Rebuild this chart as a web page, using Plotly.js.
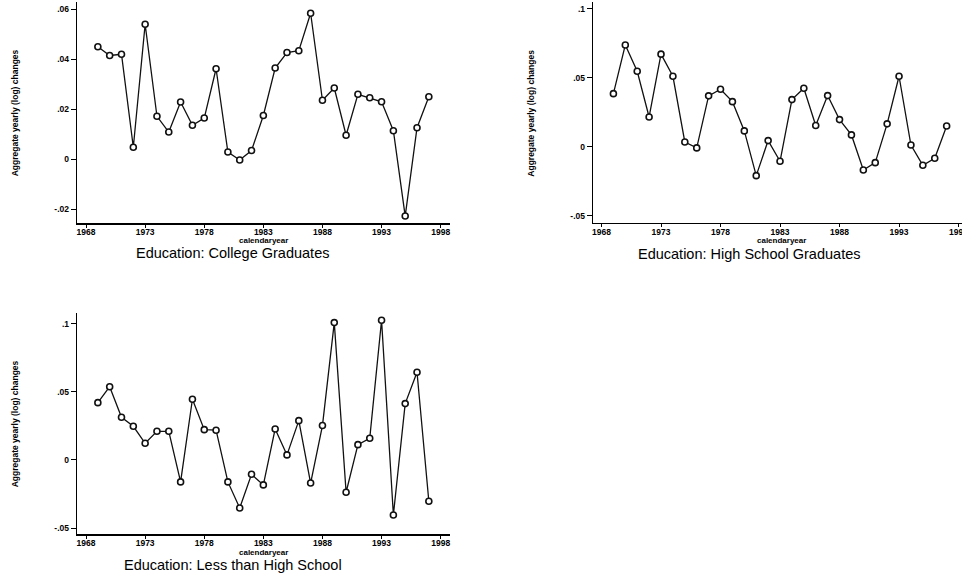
<!DOCTYPE html>
<html>
<head>
<meta charset="utf-8">
<script src="https://cdn.plot.ly/plotly-3.0.1.min.js"></script>
<style>html,body{margin:0;padding:0;background:#fff;}#chart{width:962px;height:577px;}</style>
</head>
<body>
<div id="chart"></div>
<script>
const years = [1969,1970,1971,1972,1973,1974,1975,1976,1977,1978,1979,1980,1981,1982,1983,1984,1985,1986,1987,1988,1989,1990,1991,1992,1993,1994,1995,1996,1997];
const college = [0.045,0.0415,0.042,0.0048,0.054,0.0172,0.0109,0.0229,0.0136,0.0165,0.0362,0.0029,-0.0003,0.0035,0.0175,0.0365,0.0427,0.0434,0.0584,0.0236,0.0285,0.0096,0.026,0.0246,0.023,0.0114,-0.0227,0.0126,0.025];
const highSchool = [0.0386,0.0739,0.0548,0.0217,0.0672,0.0512,0.0036,-0.0007,0.037,0.0418,0.0328,0.0116,-0.0208,0.0046,-0.0104,0.0343,0.0425,0.0155,0.0372,0.0198,0.0087,-0.0167,-0.0114,0.0167,0.0512,0.0014,-0.0133,-0.0082,0.0152];
const lessHS = [0.042,0.0537,0.0313,0.0247,0.0122,0.021,0.021,-0.0161,0.0445,0.0222,0.0218,-0.0161,-0.0352,-0.0105,-0.0183,0.0227,0.0037,0.0288,-0.0169,0.0252,0.1007,-0.0237,0.0112,0.0159,0.1024,-0.0403,0.0413,0.0643,-0.0303];
const xTicks = [1968,1973,1978,1983,1988,1993,1998];
const xTickText = ["1968","1973","1978","1983","1988","1993","1998"];
const yTicks1 = [-0.02,0,0.02,0.04,0.06];
const yTickText1 = ["-.02","0",".02",".04",".06"];
const yTicks2 = [-0.05,0,0.05,0.1];
const yTickText2 = ["-.05","0",".05",".1"];
const panelTitles = ["Education: College Graduates","Education: High School Graduates","Education: Less than High School"];
const xTitle = "calendaryear";
const yTitle = "Aggregate yearly (log) changes";

const W = 962, H = 577;
const FAM = "Liberation Sans, Arial, Helvetica, sans-serif";
const tickFont = {family: FAM, size: 8.5, color: "#000", weight: "bold"};

function trace(y, xa, ya) {
  return {
    x: years, y: y, xaxis: xa, yaxis: ya, type: "scatter", mode: "lines+markers",
    line: {color: "#111", width: 1.3},
    marker: {symbol: "circle", size: 6, color: "#fff", line: {color: "#111", width: 1.6}},
    hoverinfo: "skip"
  };
}
function xax(domain, range, anchor) {
  return {domain: domain, range: range, anchor: anchor, showline: true, linecolor: "#000", linewidth: 1.6,
    ticks: "outside", ticklen: 3, tickwidth: 1, tickcolor: "#000", tickvals: xTicks, ticktext: xTickText,
    ticklabelstandoff: -3, ticklabeloverflow: "allow",
    tickfont: tickFont, showgrid: false, zeroline: false, fixedrange: true};
}
function yax(domain, range, anchor, tv, tt) {
  return {domain: domain, range: range, anchor: anchor, showline: true, linecolor: "#000", linewidth: 1,
    ticks: "outside", ticklen: 5, tickwidth: 1, tickcolor: "#000", tickvals: tv, ticktext: tt,
    tickfont: tickFont, showgrid: false, zeroline: false, fixedrange: true};
}
function px(x) { return x / W; }
function py(y) { return 1 - y / H; }
function ann(text, x, y, size, bold, angle) {
  return {text: text, x: px(x), y: py(y), xref: "paper", yref: "paper", showarrow: false,
    xanchor: "center", yanchor: "middle", textangle: angle || 0,
    font: {family: FAM, size: size, color: "#000", weight: bold ? "bold" : "normal"}};
}

const data = [trace(college, "x", "y"), trace(highSchool, "x2", "y2"), trace(lessHS, "x3", "y3")];
const layout = {
  width: W, height: H, margin: {l: 0, r: 0, t: 0, b: 0},
  paper_bgcolor: "#fff", plot_bgcolor: "#fff", showlegend: false,
  xaxis: xax([px(76.7), px(450)], [1967.21, 1998.79], "y"),
  yaxis: yax([py(223.3), py(2)], [-0.0256, 0.0629], "x", yTicks1, yTickText1),
  xaxis2: xax([px(592.7), 1], [1967.26, 1998.29], "y2"),
  yaxis2: yax([py(222.7), py(2)], [-0.0549, 0.105], "x2", yTicks2, yTickText2),
  xaxis3: xax([px(76.7), px(450)], [1967.21, 1998.79], "y3"),
  yaxis3: yax([py(534.3), py(313.3)], [-0.0545, 0.1075], "x3", yTicks2, yTickText2),
  annotations: [
    ann(yTitle, 15.3, 113, 8.5, true, -90),
    ann(yTitle, 530.7, 113, 8.5, true, -90),
    ann(yTitle, 15.3, 424, 8.5, true, -90),
    ann(xTitle, 263, 240.5, 8, true),
    ann(xTitle, 781, 240.5, 8, true),
    ann(xTitle, 263, 552, 8, true),
    ann(panelTitles[0], 232.5, 253, 14.5, false),
    ann(panelTitles[1], 749, 254, 14.5, false),
    ann(panelTitles[2], 232.5, 565, 14.5, false)
  ]
};
Plotly.newPlot("chart", data, layout, {staticPlot: true, displayModeBar: false});
</script>
</body>
</html>
